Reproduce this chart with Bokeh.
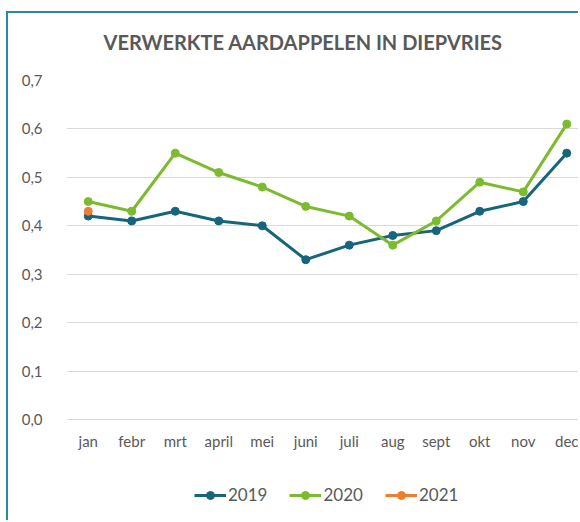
from bokeh.plotting import figure
from bokeh.models import FixedTicker, CustomJSTickFormatter, Legend, LegendItem, Range1d
from bokeh.embed import file_html
from bokeh.resources import INLINE

months = ["jan", "febr", "mrt", "april", "mei", "juni", "juli", "aug", "sept", "okt", "nov", "dec"]
y2019 = [0.42, 0.41, 0.43, 0.41, 0.40, 0.33, 0.36, 0.38, 0.39, 0.43, 0.45, 0.55]
y2020 = [0.45, 0.43, 0.55, 0.51, 0.48, 0.44, 0.42, 0.36, 0.41, 0.49, 0.47, 0.61]
y2021 = [0.43]
y_ticks = [0.0, 0.1, 0.2, 0.3, 0.4, 0.5, 0.6, 0.7]

FONT = "Lato"
GRAY = "#595959"

x_idx = list(range(len(months)))

# frame extends to the bottom edge; x axis is pinned at y = 0
p = figure(width=572, height=509, output_backend="svg", toolbar_location=None,
           x_range=Range1d(-0.5, 11.316), y_range=Range1d(-0.2127, 0.7),
           min_border_left=58, min_border_right=0, min_border_top=67, min_border_bottom=0)
p.margin = (11, 0, 0, 6)
p.styles = {"border-top": "2px solid #2c8a9b", "border-left": "2px solid #2c8a9b"}
p.outline_line_color = None
p.background_fill_color = "white"
p.border_fill_color = "white"

p.title.text = "VERWERKTE AARDAPPELEN IN DIEPVRIES"
p.title.text_font = FONT
p.title.text_font_size = "20px"
p.title.text_font_style = "bold"
p.title.text_color = GRAY
p.title.align = "left"
p.title.offset = 37
p.title.standoff = 0
p.title.padding = (0, 0, 0, 27)

p.xgrid.grid_line_color = None
p.ygrid.grid_line_color = "#d9d9d9"
p.ygrid.grid_line_width = 1

p.yaxis.ticker = FixedTicker(ticks=y_ticks)
p.yaxis.formatter = CustomJSTickFormatter(code="return tick.toFixed(1).replace('.', ',');")
p.xaxis.ticker = FixedTicker(ticks=x_idx)
p.xaxis.major_label_overrides = {i: m for i, m in zip(x_idx, months)}
p.xaxis.fixed_location = 0
for ax in (p.xaxis, p.yaxis):
    ax.axis_line_color = None
    ax.major_tick_line_color = None
    ax.minor_tick_line_color = None
    ax.major_label_text_font = FONT
    ax.major_label_text_font_size = "15px"
    ax.major_label_text_color = GRAY
p.yaxis.major_label_standoff = 18
p.xaxis.major_label_standoff = 7

series = [("2019", y2019, "#17657c"), ("2020", y2020, "#7cba2f"), ("2021", y2021, "#ed7d31")]
items = []
for name, ys, col in series:
    xs = x_idx[:len(ys)]
    r1 = p.line(xs, ys, line_color=col, line_width=3)
    r2 = p.scatter(xs, ys, size=8, fill_color=col, line_color=col)
    items.append(LegendItem(label=name, renderers=[r1, r2]))

legend = Legend(items=items, orientation="horizontal", location=(128, 17))
legend.label_text_font = FONT
legend.label_text_font_size = "17px"
legend.label_text_color = GRAY
legend.border_line_color = None
legend.background_fill_alpha = 0
legend.glyph_width = 32
legend.label_standoff = 2
legend.spacing = 22
legend.padding = 0
legend.margin = 0
p.add_layout(legend, "center")

open("out.html", "w").write(file_html(p, INLINE))
